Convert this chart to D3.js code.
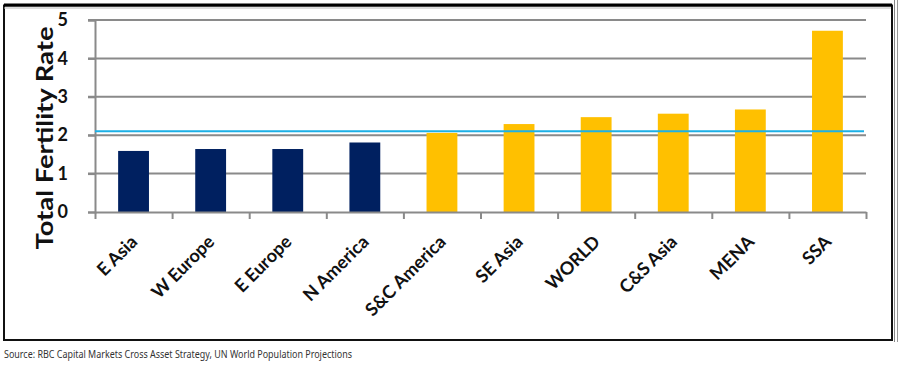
<!DOCTYPE html>
<html>
<head>
<meta charset="utf-8">
<script src="https://cdn.jsdelivr.net/npm/d3@7"></script>
<style>
  html, body { margin: 0; padding: 0; background: #fff; }
  svg { display: block; }
</style>
</head>
<body>
<svg id="chart" width="899" height="365"></svg>
<script>
const categories = ["E Asia", "W Europe", "E Europe", "N America", "S&C America", "SE Asia", "WORLD", "C&S Asia", "MENA", "SSA"];
const fertility = [1.59, 1.64, 1.64, 1.81, 2.06, 2.29, 2.47, 2.56, 2.67, 4.72];
const groups = ["developed", "developed", "developed", "developed", "developing", "developing", "developing", "developing", "developing", "developing"];
const replacementLevel = [2.1];
const yTicks = [0, 1, 2, 3, 4, 5];
const yLabel = "Total Fertility Rate";
const sourceText = "Source: RBC Capital Markets Cross Asset Strategy, UN World Population Projections";

(function () {
const colors = { developed: "#002060", developing: "#FFC000" };
const svg = d3.select("#chart");
const pL = 95, pR = 866, pT = 20, pB = 212;

// Frame
svg.append("rect").attr("x", 4).attr("y", 5.5).attr("width", 888).attr("height", 334.5)
  .attr("fill", "#fff").attr("stroke", "#111").attr("stroke-width", 2);
svg.append("line").attr("x1", 4).attr("x2", 892).attr("y1", 5).attr("y2", 5).attr("stroke", "#000").attr("stroke-width", 3);
svg.append("line").attr("x1", 4).attr("x2", 891).attr("y1", 8).attr("y2", 8).attr("stroke", "#bbb").attr("stroke-width", 1);
svg.append("line").attr("x1", 894.5).attr("x2", 894.5).attr("y1", 0).attr("y2", 342).attr("stroke", "#888").attr("stroke-width", 1);
svg.append("line").attr("x1", 897.5).attr("x2", 897.5).attr("y1", 0).attr("y2", 342).attr("stroke", "#999").attr("stroke-width", 1);

const x = d3.scaleBand().domain(categories).range([pL, pR]).paddingInner(0.6).paddingOuter(0.3);
const xb = d3.scaleLinear().domain([0, categories.length]).range([pL, pR]);
const y = d3.scaleLinear().domain([0, 5]).range([pB, pT]);

// Gridlines
svg.append("g").selectAll("line").data(yTicks.filter(d => d > 0)).join("line")
  .attr("x1", pL - 7).attr("x2", pR)
  .attr("y1", d => y(d)).attr("y2", d => y(d))
  .attr("stroke", "#8a8a8a").attr("stroke-width", 2);

// Y axis
const yAxis = svg.append("g").attr("transform", `translate(${pL},0)`)
  .call(d3.axisLeft(y).tickValues(yTicks).tickSize(7).tickPadding(20).tickFormat(d3.format("d")));
yAxis.select(".domain").attr("stroke", "#8a8a8a").attr("stroke-width", 2);
yAxis.selectAll(".tick line").attr("stroke", "#8a8a8a").attr("stroke-width", 2);
yAxis.selectAll(".tick text").attr("font-family", "Lato, 'Open Sans', sans-serif")
  .attr("font-weight", "bold").attr("font-size", 18).attr("fill", "#111");

// Bars
svg.append("g").selectAll("rect").data(categories).join("rect")
  .attr("x", d => x(d)).attr("width", x.bandwidth())
  .attr("y", (d, i) => y(fertility[i])).attr("height", (d, i) => y(0) - y(fertility[i]))
  .attr("fill", (d, i) => colors[groups[i]]);

// Replacement line
svg.append("g").selectAll("line").data(replacementLevel).join("line")
  .attr("x1", pL).attr("x2", pR - 2)
  .attr("y1", d => y(d)).attr("y2", d => y(d))
  .attr("stroke", "#1cb0e6").attr("stroke-width", 2);

// X axis
const xAxis = svg.append("g").attr("transform", `translate(0,${pB})`)
  .call(d3.axisBottom(xb).tickValues(d3.range(categories.length + 1)).tickSize(7).tickSizeOuter(0).tickFormat(""));
xAxis.select(".domain").attr("stroke", "#8a8a8a").attr("stroke-width", 2);
xAxis.selectAll(".tick line").attr("stroke", "#8a8a8a").attr("stroke-width", 2);

// Category labels
svg.append("g").selectAll("text").data(categories).join("text")
  .attr("transform", d => `translate(${x(d) + x.bandwidth() / 2 + 5},${pB + 31}) rotate(-45)`)
  .attr("text-anchor", "end")
  .attr("font-family", "Lato, 'Open Sans', sans-serif")
  .attr("font-weight", "bold").attr("font-size", 18).attr("fill", "#111")
  .text(d => d);

// Y label
svg.append("text")
  .attr("transform", `translate(53,138) rotate(-90)`)
  .attr("text-anchor", "middle")
  .attr("font-family", "Lato, 'Open Sans', sans-serif")
  .attr("font-weight", "bold").attr("font-size", 23).attr("fill", "#111")
  .attr("textLength", 223).attr("lengthAdjust", "spacingAndGlyphs")
  .text(yLabel);

// Source
svg.append("text").attr("x", 4).attr("y", 358)
  .attr("font-family", "'Liberation Sans Narrow', 'Noto Sans', sans-serif")
  .attr("font-size", 10.5).attr("fill", "#333")
  .attr("textLength", 348).attr("lengthAdjust", "spacingAndGlyphs")
  .text(sourceText);
})();
</script>
</body>
</html>
